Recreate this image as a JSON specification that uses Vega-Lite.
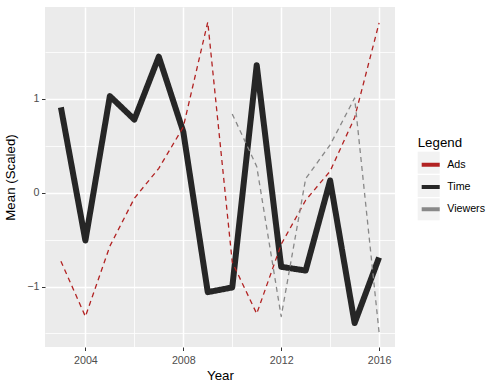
{
  "$schema": "https://vega.github.io/schema/vega-lite/v6.json",
  "width": 350,
  "height": 340,
  "autosize": {"type": "none"},
  "padding": {"left": 45, "top": 7, "right": 105, "bottom": 41},
  "background": "white",
  "config": {
    "view": {"fill": "#EBEBEB", "stroke": null},
    "font": "Liberation Sans"
  },
  "data": {
    "values": [
      {"year": 2003, "series": "Time", "value": 0.91},
      {"year": 2004, "series": "Time", "value": -0.51},
      {"year": 2005, "series": "Time", "value": 1.03},
      {"year": 2006, "series": "Time", "value": 0.78},
      {"year": 2007, "series": "Time", "value": 1.45},
      {"year": 2008, "series": "Time", "value": 0.65},
      {"year": 2009, "series": "Time", "value": -1.06},
      {"year": 2010, "series": "Time", "value": -1.01},
      {"year": 2011, "series": "Time", "value": 1.36},
      {"year": 2012, "series": "Time", "value": -0.79},
      {"year": 2013, "series": "Time", "value": -0.83},
      {"year": 2014, "series": "Time", "value": 0.13},
      {"year": 2015, "series": "Time", "value": -1.39},
      {"year": 2016, "series": "Time", "value": -0.69},
      {"year": 2003, "series": "Ads", "value": -0.73},
      {"year": 2004, "series": "Ads", "value": -1.32},
      {"year": 2005, "series": "Ads", "value": -0.57},
      {"year": 2006, "series": "Ads", "value": -0.06},
      {"year": 2007, "series": "Ads", "value": 0.26},
      {"year": 2008, "series": "Ads", "value": 0.7},
      {"year": 2009, "series": "Ads", "value": 1.82},
      {"year": 2010, "series": "Ads", "value": -0.74},
      {"year": 2011, "series": "Ads", "value": -1.29},
      {"year": 2012, "series": "Ads", "value": -0.55},
      {"year": 2013, "series": "Ads", "value": -0.08},
      {"year": 2014, "series": "Ads", "value": 0.23},
      {"year": 2015, "series": "Ads", "value": 0.8},
      {"year": 2016, "series": "Ads", "value": 1.81},
      {"year": 2010, "series": "Viewers", "value": 0.84},
      {"year": 2011, "series": "Viewers", "value": 0.28},
      {"year": 2012, "series": "Viewers", "value": -1.32},
      {"year": 2013, "series": "Viewers", "value": 0.15},
      {"year": 2014, "series": "Viewers", "value": 0.51},
      {"year": 2015, "series": "Viewers", "value": 1.01},
      {"year": 2016, "series": "Viewers", "value": -1.49}
    ]
  },
  "resolve": {"axis": {"x": "independent", "y": "independent"}},
  "layer": [
    {
      "transform": [{"filter": "datum.year < 0"}],
      "mark": {"type": "point", "filled": true, "color": "#F2F2F2", "opacity": 1},
      "encoding": {
        "x": {
          "field": "year", "type": "quantitative",
          "scale": {"domain": [2002.35, 2016.65], "nice": false, "zero": false},
          "axis": {"orient": "top", "values": [2002, 2006, 2010, 2014], "grid": true, "gridColor": "white", "gridWidth": 0.8, "labels": false, "ticks": false, "domain": false, "title": null}
        },
        "y": {
          "field": "value", "type": "quantitative",
          "scale": {"domain": [-1.645, 1.98], "nice": false, "zero": false},
          "axis": {"orient": "right", "values": [-1.5, -0.5, 0.5, 1.5], "grid": true, "gridColor": "white", "gridWidth": 0.8, "labels": false, "ticks": false, "domain": false, "title": null}
        },
        "shape": {
          "field": "series", "type": "nominal",
          "scale": {"domain": ["Ads", "Time", "Viewers"], "range": ["square", "square", "square"]},
          "legend": {
            "orient": "none", "legendX": 372.7, "legendY": 144.7,
            "title": null,
            "labelExpr": "''", "labelFontSize": 10.7, "labelOffset": 3.5,
            "symbolSize": 484, "symbolFillColor": "#F2F2F2", "symbolStrokeWidth": 0, "symbolOpacity": 1,
            "rowPadding": 1.3
          }
        }
      }
    },
    {
      "mark": {"type": "line", "strokeJoin": "round", "strokeCap": "butt"},
      "encoding": {
        "x": {
          "field": "year", "type": "quantitative",
          "axis": {"orient": "bottom", "values": [2004, 2008, 2012, 2016], "format": "d", "grid": true, "gridColor": "white", "gridWidth": 1.5, "domain": false, "tickColor": "#333333", "tickSize": 3.5, "tickWidth": 1, "labelColor": "#4D4D4D", "labelFontSize": 10.7, "labelPadding": 4.5, "labelFlush": false, "title": "Year", "titleFontSize": 13.3, "titleFontWeight": "normal", "titleColor": "black", "titlePadding": 3.5}
        },
        "y": {
          "field": "value", "type": "quantitative",
          "axis": {"orient": "left", "values": [-1, 0, 1], "grid": true, "gridColor": "white", "gridWidth": 1.5, "domain": false, "tickColor": "#333333", "tickSize": 3.5, "tickWidth": 1, "labelColor": "#4D4D4D", "labelFontSize": 10.7, "labelPadding": 2.5, "title": "Mean (Scaled)", "titleFontSize": 13.3, "titleFontWeight": "normal", "titleColor": "black", "titlePadding": 9}
        },
        "color": {
          "field": "series", "type": "nominal",
          "scale": {"range": ["#B22222", "#262626", "#888888"]},
          "legend": {
            "orient": "none", "legendX": 372.7, "legendY": 129.2,
            "title": "Legend", "titleFontSize": 13.3, "titleFontWeight": "normal", "titleColor": "black", "titlePadding": 2.2,
            "labelFontSize": 10.7, "labelColor": "black", "labelOffset": 3.5,
            "symbolType": "M-0.82,0H0.82", "symbolSize": 484, "symbolStrokeWidth": 4, "symbolOpacity": 1, "symbolDash": [1, 0],
            "rowPadding": 1.3
          }
        },
        "strokeDash": {
          "condition": {"test": "datum.series === 'Time'", "value": [1, 0]},
          "value": [5, 4]
        },
        "strokeWidth": {
          "condition": {"test": "datum.series === 'Time'", "value": 6},
          "value": 1.3
        }
      }
    }
  ]
}
